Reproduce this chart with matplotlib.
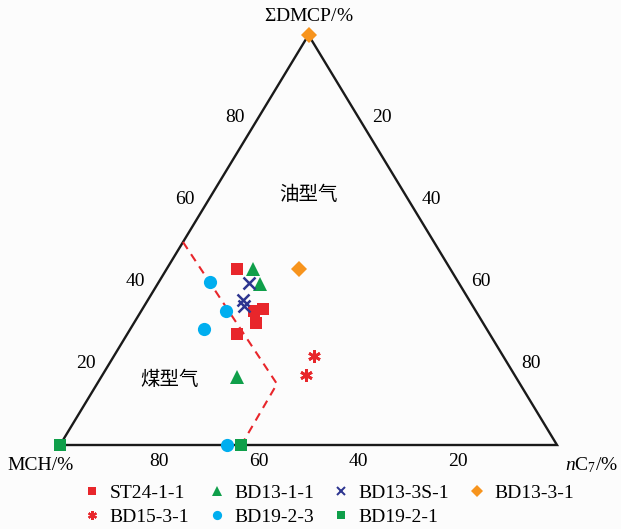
import numpy as np
import matplotlib.pyplot as plt
from matplotlib.lines import Line2D

plt.rcParams['font.family'] = ['Liberation Serif', 'Noto Sans CJK SC']
plt.rcParams['mathtext.fontset'] = 'custom'
plt.rcParams['mathtext.rm'] = 'Liberation Serif'
plt.rcParams['mathtext.it'] = 'Liberation Serif:italic'

# Sample data, ternary percentages: (sum DMCP, nC7); MCH = 100 - both
st24_dmcp = [42.9, 33.2, 32.8, 29.8, 27.1]
st24_nc7 = [14.1, 24.3, 22.7, 24.6, 22.0]

bd13_1_dmcp = [42.9, 39.3, 16.5]
bd13_1_nc7 = [17.3, 20.5, 27.3]

bd13_3s_dmcp = [39.4, 35.4, 33.9]
bd13_3s_nc7 = [18.3, 19.1, 20.0]

bd13_3_dmcp = [43.0, 100.0]
bd13_3_nc7 = [26.5, 0.0]

bd15_dmcp = [21.7, 17.0]
bd15_nc7 = [40.3, 40.9]

bd19_3_dmcp = [39.8, 32.8, 28.3, 0.0]
bd19_3_nc7 = [10.3, 17.0, 14.9, 33.7]

bd19_1_dmcp = [0.0, 0.0]
bd19_1_nc7 = [36.5, 0.0]

# boundary between oil-type and coal-type gas
bound_dmcp = [49.5, 14.9, 0.0]
bound_nc7 = [0.0, 36.2, 36.5]

ticks = [20, 40, 60, 80]


def to_xy(dmcp, nc7):
    t = np.asarray(dmcp) / 100.0
    r = np.asarray(nc7) / 100.0
    return r + t / 2.0, t


fig = plt.figure(figsize=(6.21, 5.29), dpi=100)
fig.patch.set_facecolor('#fcfcfc')
ax = fig.add_axes([0, 0, 1, 1])
ax.set_xlim(-60 / 497, 561 / 497)
ax.set_ylim(-84 / 410, 445 / 410)
ax.axis('off')

# triangle frame
ax.plot([0, 1, 0.5, 0], [0, 0, 1, 0], color='#1a1a1a', lw=1.7, zorder=2, solid_joinstyle='miter')

# edge labels
for v in ticks:
    x, y = to_xy(v, 0)
    ax.text(x - 0.048, y, str(v), fontsize=14, ha='center', va='center')
    x, y = to_xy(v, 100 - v)
    ax.text(x + 0.047, y, str(100 - v), fontsize=14, ha='center', va='center')
    ax.text(1 - v / 100.0, -0.04, str(v), fontsize=14, ha='center', va='center')

ax.text(0.5, 1.045, r'$\Sigma$DMCP/%', fontsize=14, ha='center', va='center')
ax.text(-0.04, -0.05, 'MCH/%', fontsize=14, ha='center', va='center')
ax.text(1.07, -0.05, r'$\mathit{n}$C$_{\mathit{7}}$/%', fontsize=14, ha='center', va='center')

ax.text(0.5, 0.61, '油型气', fontsize=14, ha='center', va='center', family='Noto Sans CJK SC')
ax.text(0.22, 0.16, '煤型气', fontsize=14, ha='center', va='center', family='Noto Sans CJK SC')

bx, by = to_xy(bound_dmcp, bound_nc7)
ax.plot(bx, by, color='#e8262b', lw=1.5, ls=(0, (4, 3)), zorder=3)

series = [
    (st24_dmcp, st24_nc7, 's', '#e8262b', 9, 0, 'ST24-1-1'),
    (bd13_1_dmcp, bd13_1_nc7, '^', '#0f9f4a', 10.5, 0, 'BD13-1-1'),
    (bd13_3s_dmcp, bd13_3s_nc7, 'x', '#2d3590', 8, 1.8, 'BD13-3S-1'),
    (bd13_3_dmcp, bd13_3_nc7, 'D', '#f7941d', 8.5, 0, 'BD13-3-1'),
    (bd15_dmcp, bd15_nc7, (6, 2, 0), '#e8262b', 9, 2.0, 'BD15-3-1'),
    (bd19_3_dmcp, bd19_3_nc7, 'o', '#00aeef', 9.5, 0, 'BD19-2-3'),
    (bd19_1_dmcp, bd19_1_nc7, 's', '#0f9f4a', 9, 0, 'BD19-2-1'),
]

handles = {}
for d, n, m, c, s, mew, lab in series:
    x, y = to_xy(d, n)
    ax.plot(x, y, ls='none', marker=m, color=c, ms=s, mew=mew, zorder=4, clip_on=False)
    handles[lab] = Line2D([], [], ls='none', marker=m, color=c, ms=s * 0.7, mew=mew * 0.8)

order = ['ST24-1-1', 'BD15-3-1', 'BD13-1-1', 'BD19-2-3', 'BD13-3S-1', 'BD19-2-1', 'BD13-3-1']
ax.legend([handles[k] for k in order], order, ncol=4, frameon=False, fontsize=14,
          loc='center', bbox_to_anchor=(0.53, 0.045), bbox_transform=fig.transFigure,
          handlelength=0.8, handletextpad=0.5, columnspacing=1.0, labelspacing=0.3)

plt.savefig('out.png', dpi=100, facecolor=fig.get_facecolor())
